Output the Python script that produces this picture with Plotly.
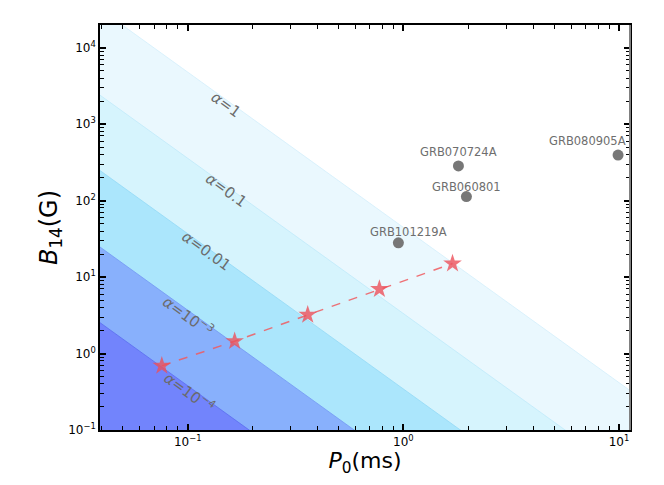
import numpy as np
import plotly.graph_objects as go

# alpha contour levels: B14 = B_1ms * P0^-slope, band colours light -> dark
alpha_levels = [1.0, 0.1, 0.01, 1e-3, 1e-4]
alpha_labels = ["<i>α</i>=1", "<i>α</i>=0.1", "<i>α</i>=0.01",
                "<i>α</i>=10<sup>−3</sup>", "<i>α</i>=10<sup>−4</sup>"]
b14_at_1ms = [44.6, 3.33, 0.344, 0.0344, 0.00353]
label_p0 = [0.148, 0.147, 0.119, 0.099, 0.100]
band_colors = ["#eaf8fe", "#d6f4fd", "#abe6fc", "#88b0fc", "#7284fc"]
edge_colors = ["#d3effb", "#bfeafa", "#93d9f6", "#7398f4", "#5a6cf0"]
slope = 2.03

# magnetar fit points (stars)
star_p0 = [0.0758, 0.165, 0.360, 0.774, 1.69]
star_b14 = [0.69, 1.45, 3.2, 6.95, 15.0]

# GRBs
grb_names = ["GRB101219A", "GRB070724A", "GRB060801", "GRB080905A"]
grb_p0 = [0.948, 1.80, 1.96, 9.9]
grb_b14 = [28.0, 284.0, 113.0, 394.0]
grb_xshift = [10, 0, 0, -31]
grb_yshift = [11, 14, 10, 14]

x_ticks = [0.1, 1, 10]
x_ticktext = ["10<sup>−1</sup>", "10<sup>0</sup>", "10<sup>1</sup>"]
y_ticks = [0.1, 1, 10, 100, 1000, 10000]
y_ticktext = ["10<sup>−1</sup>", "10<sup>0</sup>", "10<sup>1</sup>",
              "10<sup>2</sup>", "10<sup>3</sup>", "10<sup>4</sup>"]


def b_line(b1, p0):
    return b1 * p0 ** (-slope)


fig = go.Figure()

# filled bands, largest alpha first so the darker ones sit on top
p_edge = [1e-2, 1e2]
for b1, col, ec in zip(b14_at_1ms, band_colors, edge_colors):
    bx = [p_edge[0], p_edge[1], p_edge[1], p_edge[0], p_edge[0]]
    by = [b_line(b1, p_edge[0]), b_line(b1, p_edge[1]), 1e-3, 1e-3, b_line(b1, p_edge[0])]
    fig.add_trace(go.Scatter(x=bx, y=by, mode="lines", fill="toself", fillcolor=col,
                             line=dict(width=0), hoverinfo="skip", showlegend=False))
    fig.add_trace(go.Scatter(x=p_edge, y=[b_line(b1, p) for p in p_edge], mode="lines",
                             line=dict(width=0.8, color=ec), hoverinfo="skip", showlegend=False))

for b1, txt, p in zip(b14_at_1ms, alpha_labels, label_p0):
    fig.add_annotation(x=np.log10(p), y=np.log10(b_line(b1, p)), text=txt, showarrow=False,
                       textangle=36, xshift=2, yshift=-6,
                       font=dict(size=15, color="#6b6b6b", family="DejaVu Sans"))

fig.add_trace(go.Scatter(x=star_p0, y=star_b14, mode="lines+markers",
                         line=dict(color="rgba(240,90,95,0.85)", width=1.5, dash="dash"),
                         marker=dict(symbol="star", size=14, color="rgba(236,80,90,0.8)",
                                     line=dict(width=0)),
                         showlegend=False))

fig.add_trace(go.Scatter(x=grb_p0, y=grb_b14, mode="markers",
                         marker=dict(size=11, color="#777777"), showlegend=False,
                         cliponaxis=False))
for n, p, b, xs, ys in zip(grb_names, grb_p0, grb_b14, grb_xshift, grb_yshift):
    fig.add_annotation(x=np.log10(p), y=np.log10(b), text=n, showarrow=False,
                       xshift=xs, yshift=ys,
                       font=dict(size=11.5, color="#6e6e6e", family="DejaVu Sans"))

axis_common = dict(type="log", showgrid=False, zeroline=False, showline=True,
                   linecolor="black", linewidth=1.5, mirror="ticks",
                   ticks="inside", ticklen=6, tickwidth=1.5, tickcolor="black",
                   tickfont=dict(size=12, color="black", family="DejaVu Sans"),
                   minor=dict(ticks="inside", ticklen=4, tickwidth=1.2, tickcolor="black",
                              dtick="D1", showgrid=False))

fig.update_xaxes(**axis_common, range=[-1.407, 1.051], tickmode="array",
                 tickvals=x_ticks, ticktext=x_ticktext,
                 title=dict(text="<i>P</i><sub>0</sub>(ms)", standoff=0,
                            font=dict(size=22, color="black", family="DejaVu Sans")))
fig.update_yaxes(**axis_common, range=[-1, 4.296], tickmode="array",
                 tickvals=y_ticks, ticktext=y_ticktext,
                 title=dict(text="<i>B</i><sub>14</sub>(G)", standoff=4,
                            font=dict(size=24, color="black", family="DejaVu Sans")))

# right spine is drawn grey in the original
fig.add_shape(type="line", xref="paper", yref="paper", x0=1, x1=1, y0=0, y1=1,
              line=dict(color="#808080", width=2))

# page body has an 8px margin, so the figure is 16px smaller than the window
fig.update_layout(width=648, height=469, margin=dict(l=92, r=26, t=17, b=41),
                  plot_bgcolor="white", paper_bgcolor="white",
                  font=dict(family="DejaVu Sans"))

fig.write_html("out.html")
